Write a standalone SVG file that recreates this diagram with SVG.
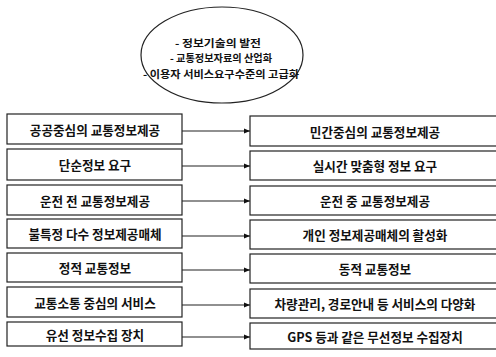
<svg xmlns="http://www.w3.org/2000/svg" width="496" height="357" viewBox="0 0 496 357">
<style>
.box{fill:#fff;stroke:#222;stroke-width:1.2}
.t{font-family:"Noto Sans CJK KR","Noto Sans",sans-serif;font-size:12.6px;font-weight:bold;fill:#111;text-anchor:middle;dominant-baseline:central}
.e{font-family:"Noto Sans CJK KR","Noto Sans",sans-serif;font-size:10.2px;font-weight:bold;fill:#111;text-anchor:middle;dominant-baseline:central}
.c{stroke:#222;stroke-width:1.2;fill:none;marker-end:url(#ah)}
</style>
<defs>
<marker id="ah" viewBox="0 0 10 10" refX="10" refY="5" markerWidth="6" markerHeight="6" markerUnits="userSpaceOnUse" orient="auto">
<path d="M0,1 L10,5 L0,9 Z" fill="#111"/>
</marker>
</defs>
<rect width="496" height="357" fill="#fff"/>
<g id="trends">
<ellipse cx="222" cy="55" rx="81" ry="48" fill="#fff" stroke="#222" stroke-width="1.2"/>
<text class="e" x="218" y="42" textLength="86" lengthAdjust="spacingAndGlyphs">- 정보기술의 발전</text>
<text class="e" x="221" y="57.5" textLength="102" lengthAdjust="spacingAndGlyphs">- 교통정보자료의 산업화</text>
<text class="e" x="221" y="73" textLength="156" lengthAdjust="spacingAndGlyphs">- 이용자 서비스요구수준의 고급화</text>
</g>
<g id="l1"><rect class="box" x="7" y="114" width="175" height="30"/><text class="t" x="95" y="129">공공중심의 교통정보제공</text></g>
<g id="l2"><rect class="box" x="7" y="149" width="175" height="31"/><text class="t" x="95" y="164">단순정보 요구</text></g>
<g id="l3"><rect class="box" x="7" y="185" width="175" height="30"/><text class="t" x="95" y="200">운전 전 교통정보제공</text></g>
<g id="l4"><rect class="box" x="7" y="219" width="175" height="29"/><text class="t" x="95" y="233">불특정 다수 정보제공매체</text></g>
<g id="l5"><rect class="box" x="7" y="253" width="175" height="29"/><text class="t" x="95" y="267">정적 교통정보</text></g>
<g id="l6"><rect class="box" x="7" y="287" width="175" height="30"/><text class="t" x="95" y="302">교통소통 중심의 서비스</text></g>
<g id="l7"><rect class="box" x="7" y="322" width="175" height="24"/><text class="t" x="95" y="334">유선 정보수집 장치</text></g>
<g id="r1"><rect class="box" x="250" y="116" width="250" height="30"/><text class="t" x="375" y="131">민간중심의 교통정보제공</text></g>
<g id="r2"><rect class="box" x="250" y="151" width="250" height="29"/><text class="t" x="375" y="165">실시간 맞춤형 정보 요구</text></g>
<g id="r3"><rect class="box" x="250" y="186" width="250" height="29"/><text class="t" x="375" y="200">운전 중 교통정보제공</text></g>
<g id="r4"><rect class="box" x="250" y="220" width="250" height="29"/><text class="t" x="375" y="234">개인 정보제공매체의 활성화</text></g>
<g id="r5"><rect class="box" x="250" y="254" width="250" height="29"/><text class="t" x="375" y="268">동적 교통정보</text></g>
<g id="r6"><rect class="box" x="250" y="289" width="250" height="29"/><text class="t" x="375" y="303">차량관리, 경로안내 등 서비스의 다양화</text></g>
<g id="r7"><rect class="box" x="250" y="323" width="250" height="26"/><text class="t" x="375" y="336">GPS 등과 같은 무선정보 수집장치</text></g>
<g id="connectors">
<line class="c" x1="182" y1="131" x2="250" y2="131"/>
<line class="c" x1="182" y1="166" x2="250" y2="166"/>
<line class="c" x1="182" y1="201" x2="250" y2="201"/>
<line class="c" x1="182" y1="236" x2="250" y2="236"/>
<line class="c" x1="182" y1="270" x2="250" y2="270"/>
<line class="c" x1="182" y1="305" x2="250" y2="305"/>
<line class="c" x1="182" y1="337" x2="250" y2="337"/>
</g>
</svg>
